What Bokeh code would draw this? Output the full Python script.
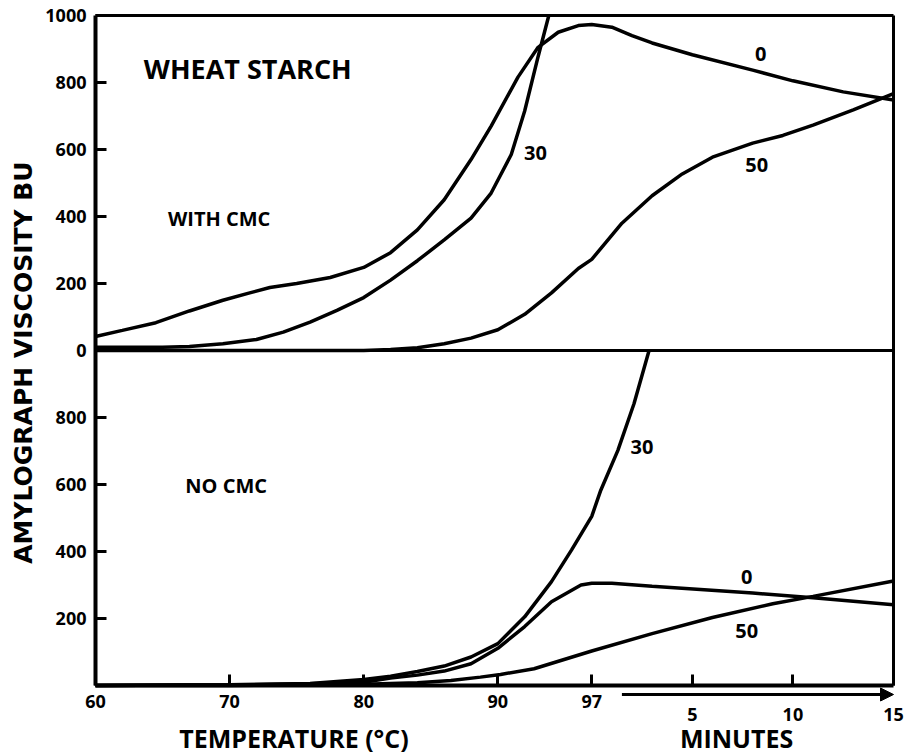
import math
from bokeh.plotting import figure
from bokeh.models import Range1d, LinearAxis, FixedTicker, Label, Arrow, NormalHead
from bokeh.embed import file_html
from bokeh.resources import INLINE

# ---------------- data ----------------
# x axis: heating phase in degC (1.5 degC/min from 60 to 97), then hold minutes at 97 degC
T_START, T_HOLD, HEAT_RATE, HOLD_LEN = 60, 97, 1.5, 15

temp_ticks = [60, 70, 80, 90, 97]
minute_ticks = [5, 10, 15]
y_ticks_top = [0, 200, 400, 600, 800, 1000]
y_ticks_bottom = [200, 400, 600, 800]

# --- WITH CMC (upper panel) ---
with_0_temp = [60, 62, 64.5, 67, 69.5, 71.5, 73, 75, 77.5, 80, 82, 84, 86, 88, 89.5, 91.5, 93, 94.5, 96, 97]
with_0_temp_bu = [42, 60, 83, 118, 150, 172, 188, 200, 218, 248, 292, 360, 450, 570, 670, 816, 905, 950, 970, 973]
with_0_min = [0, 1, 2, 3, 5, 8, 10, 12.5, 15]
with_0_min_bu = [973, 965, 940, 918, 883, 837, 805, 772, 748]

with_30_temp = [60, 65, 67, 69.5, 72, 74, 76, 78, 80, 82, 84, 86, 88, 89.5, 91, 92, 93, 93.8]
with_30_temp_bu = [10, 10, 12, 20, 33, 55, 85, 120, 158, 210, 268, 330, 395, 470, 585, 715, 877, 1000]

with_50_temp = [60, 70, 80, 82, 84, 86, 88, 90, 92, 94, 96, 97]
with_50_temp_bu = [0, 0, 0, 3, 8, 20, 37, 62, 108, 172, 245, 272]
with_50_min = [0, 1.5, 3, 4.5, 6, 8, 9.5, 11, 13, 15]
with_50_min_bu = [272, 380, 462, 527, 577, 619, 642, 673, 718, 767]

# --- NO CMC (lower panel) ---
no_0_temp = [60, 70, 76, 80, 82, 84, 86, 88, 90, 92, 94, 96.2, 97]
no_0_temp_bu = [0, 2, 5, 10, 22, 31, 43, 65, 111, 176, 250, 300, 305]
no_0_min = [0, 1, 3, 8, 11, 15]
no_0_min_bu = [305, 305, 296, 276, 262, 241]

no_30_temp = [60, 70, 76, 80, 82, 84, 86, 88, 90, 92, 94, 95.5, 97]
no_30_temp_bu = [0, 2, 6, 18, 28, 42, 58, 85, 125, 205, 310, 405, 505]
no_30_min = [0, 0.45, 1.3, 2.1, 2.85]
no_30_min_bu = [505, 583, 702, 841, 1000]

no_50_temp = [60, 70, 80, 84, 86.5, 88.7, 90.2, 92.7, 97]
no_50_temp_bu = [0, 0, 4, 8, 15, 25, 33, 50, 103]
no_50_min = [0, 3, 6, 9, 11, 15]
no_50_min_bu = [103, 155, 203, 244, 266, 312]

# ---------------- helpers: heating temperature / hold minute -> elapsed run minutes ----------------
HOLD_START = (T_HOLD - T_START) / HEAT_RATE
RUN_END = HOLD_START + HOLD_LEN


def x_temp(ts):
    return [(t - T_START) / HEAT_RATE for t in ts]


def x_hold(ms):
    return [HOLD_START + m for m in ms]


# ---------------- layout (pixels inside the canvas) ----------------
W, H = 905, 756
PLOT_L, PLOT_R = 95, 893      # left axis / right border
PLOT_T, PLOT_B = 15, 685      # top border / bottom axis
PX_PER_MIN = (PLOT_R - PLOT_L) / RUN_END
PX_PER_BU = (PLOT_B - PLOT_T) / 2000.0
x0 = -PLOT_L / PX_PER_MIN
x1 = RUN_END + (W - PLOT_R) / PX_PER_MIN
y0 = -(H - PLOT_B) / PX_PER_BU
y1 = 2000 + PLOT_T / PX_PER_BU

FONT = "Open Sans"

p = figure(width=W, height=H, output_backend="svg", toolbar_location=None,
           x_range=Range1d(x0, x1), y_range=Range1d(y0, y1),
           x_axis_type=None, y_axis_type=None,
           min_border_left=0, min_border_right=0, min_border_top=0, min_border_bottom=0)
# upper panel: its own value scale, 0 at the panel divider
p.extra_y_ranges = {"top": Range1d(y0 - 1000, y1 - 1000)}
p.grid.visible = False
p.outline_line_color = None
p.background_fill_color = "white"
p.border_fill_color = "white"


def style_axis(ax, lw):
    ax.axis_line_width = lw
    ax.axis_line_color = "black"
    ax.major_tick_in = 11
    ax.major_tick_out = 0
    ax.major_tick_line_width = 3
    ax.major_tick_line_color = "black"
    ax.minor_tick_line_color = None
    ax.major_label_text_font = FONT
    ax.major_label_text_font_style = "bold"
    ax.major_label_text_font_size = "18px"
    ax.major_label_text_color = "black"


# ---- y axis (lower panel on default range, upper panel shifted by one panel) ----
y_ticks = y_ticks_bottom + [t + 1000 for t in y_ticks_top]
y_over = {t + 1000: str(t) for t in y_ticks_top}
y_over.update({t: str(t) for t in y_ticks_bottom})
yaxis = LinearAxis(ticker=FixedTicker(ticks=y_ticks), major_label_overrides=y_over,
                   fixed_location=0, bounds=(0, 2000))
style_axis(yaxis, 4)
yaxis.major_label_standoff = 9
p.add_layout(yaxis, "left")

# ---- x axis (temperature ticks + minute ticks) ----
x_ticks = x_temp(temp_ticks) + x_hold(minute_ticks)
x_over = {xv: str(t) for xv, t in zip(x_temp(temp_ticks), temp_ticks)}
x_over.update({xv: "" for xv in x_hold(minute_ticks)})
xaxis = LinearAxis(ticker=FixedTicker(ticks=x_ticks), major_label_overrides=x_over,
                   fixed_location=0, bounds=(0, RUN_END))
style_axis(xaxis, 4)
xaxis.major_label_standoff = 9
p.add_layout(xaxis, "below")

# ---- frame lines: top border, right border, panel divider ----
for side, loc, bnds in [("above", 2000, (0, RUN_END)), ("right", RUN_END, (0, 2000)),
                        ("below", 1000, (0, RUN_END))]:
    ax = LinearAxis(ticker=FixedTicker(ticks=[]), fixed_location=loc, bounds=bnds,
                    axis_line_width=3, axis_line_color="black",
                    major_tick_line_color=None, minor_tick_line_color=None)
    p.add_layout(ax, side)

# ---- curves ----
LW = 3.5
curves_top = [
    (with_0_temp, with_0_temp_bu, with_0_min, with_0_min_bu),
    (with_30_temp, with_30_temp_bu, [], []),
    (with_50_temp, with_50_temp_bu, with_50_min, with_50_min_bu),
]
for tt, tv, mm, mv in curves_top:
    p.line(x_temp(tt) + x_hold(mm), tv + mv, line_color="black", line_width=LW, y_range_name="top")

curves_bottom = [
    (no_0_temp, no_0_temp_bu, no_0_min, no_0_min_bu),
    (no_30_temp, no_30_temp_bu, no_30_min, no_30_min_bu),
    (no_50_temp, no_50_temp_bu, no_50_min, no_50_min_bu),
]
for tt, tv, mm, mv in curves_bottom:
    p.line(x_temp(tt) + x_hold(mm), tv + mv, line_color="black", line_width=LW)


def add_label(x, y, text, size, range_name="default", align="center", angle=0.0, font=FONT,
              baseline="middle"):
    p.add_layout(Label(x=x, y=y, text=text, y_range_name=range_name, angle=angle,
                       text_font=font, text_font_style="bold", text_font_size=size,
                       text_align=align, text_baseline=baseline, text_color="black"))


# panel titles
add_label(x_temp([63.6])[0], 842, "WHEAT STARCH", "27px", "top", "left")
add_label(x_temp([65.4])[0], 394, "WITH CMC", "20px", "top", "left")
add_label(x_temp([66.7])[0], 597, "NO CMC", "20px", "default", "left")

# curve labels (percent)
add_label(x_temp([92.8])[0], 591, "30", "20px", "top")
add_label(x_hold([8.4])[0], 884, "0", "20px", "top")
add_label(x_hold([8.2])[0], 555, "50", "20px", "top")
add_label(x_hold([2.5])[0], 713, "30", "20px")
add_label(x_hold([7.7])[0], 325, "0", "20px")
add_label(x_hold([7.7])[0], 164, "50", "20px")

# y axis title
add_label(-72 / PX_PER_MIN, 964, "AMYLOGRAPH VISCOSITY BU", "25px", angle=math.pi / 2,
          font="DejaVu Sans")

# minute tick labels (second row below the axis)
MIN_ROW = -28.5 / PX_PER_BU
for xv, m in zip(x_hold(minute_ticks), minute_ticks):
    add_label(xv, MIN_ROW, str(m), "18px")

# axis titles (bottom of the text box kept just inside the canvas)
TITLE_ROW = -(H - 2 - PLOT_B) / PX_PER_BU
add_label(x_temp([74.8])[0], TITLE_ROW, "TEMPERATURE (°C)", "25px", baseline="bottom")
add_label(x_hold([7.2])[0], TITLE_ROW, "MINUTES", "25px", baseline="bottom")

# minutes arrow
arrow_y = -9 / PX_PER_BU
p.add_layout(Arrow(x_start=x_hold([1.5])[0], y_start=arrow_y, x_end=RUN_END, y_end=arrow_y,
                   line_width=3, line_color="black",
                   end=NormalHead(size=13, fill_color="black", line_color="black", line_width=1)))

open("out.html", "w").write(file_html(p, INLINE))
